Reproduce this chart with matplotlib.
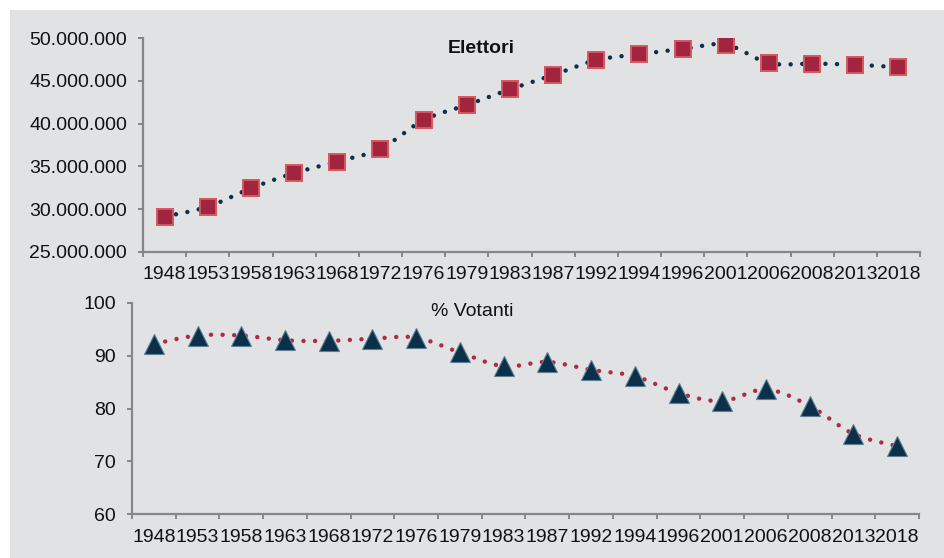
import numpy as np
import matplotlib.pyplot as plt
from matplotlib.ticker import FuncFormatter, MultipleLocator, FixedLocator

plt.rcParams['font.family'] = ['Liberation Sans', 'DejaVu Sans']

# dati
anni = ['1948', '1953', '1958', '1963', '1968', '1972', '1976', '1979', '1983',
        '1987', '1992', '1994', '1996', '2001', '2006', '2008', '2013', '2018']
elettori = [29117554, 30267080, 32436022, 34201660, 35566681, 37049654,
            40423131, 42181664, 44019393, 45689829, 47435964, 48135041,
            48744846, 49256295, 47098181, 47041814, 46905154, 46604925]
votanti = [92.2, 93.8, 93.8, 92.9, 92.8, 93.2, 93.4, 90.6, 88.0,
           88.8, 87.3, 86.1, 82.9, 81.4, 83.6, 80.5, 75.2, 72.9]

NAVY = '#0b3049'
RED = '#a3243f'
RED_EDGE = '#d4585e'
LINE_RED = '#b02945'
AXIS = '#868686'
BG = '#e1e2e4'
FS = 14


def curva_smussata(x, y, n=30):
    # linea "smussata" tipo Excel (Catmull-Rom) tra i punti
    x = np.asarray(x, float)
    y = np.asarray(y, float)
    px = np.concatenate([[x[0]], x, [x[-1]]])
    py = np.concatenate([[y[0]], y, [y[-1]]])
    xs, ys = [], []
    t = np.linspace(0, 1, n, endpoint=False)
    for i in range(1, len(px) - 2):
        for p, out in ((px, xs), (py, ys)):
            p0, p1, p2, p3 = p[i - 1], p[i], p[i + 1], p[i + 2]
            out.extend(0.5 * ((2 * p1) + (-p0 + p2) * t
                              + (2 * p0 - 5 * p1 + 4 * p2 - p3) * t ** 2
                              + (-p0 + 3 * p1 - 3 * p2 + p3) * t ** 3))
    xs.append(x[-1])
    ys.append(y[-1])
    return np.array(xs), np.array(ys)


def stile_asse(ax):
    ax.set_facecolor(BG)
    for s in ('top', 'right'):
        ax.spines[s].set_visible(False)
    for s in ('left', 'bottom'):
        ax.spines[s].set_color(AXIS)
        ax.spines[s].set_linewidth(1.6)
    ax.set_xlim(-0.5, len(anni) - 0.5)
    ax.set_xticks(range(len(anni)))
    ax.set_xticklabels(anni)
    ax.xaxis.set_minor_locator(FixedLocator(np.arange(-0.5, len(anni), 1)))
    ax.tick_params(axis='x', which='major', length=0, pad=10.5, labelsize=FS, labelcolor='#111111')
    ax.tick_params(axis='x', which='minor', length=3.6, width=1.4, color=AXIS, direction='out')
    ax.tick_params(axis='y', length=3.6, width=1.4, color=AXIS, pad=8, labelsize=FS, labelcolor='#111111')


fig = plt.figure(figsize=(9.44, 5.58), dpi=100)
fig.patch.set_facecolor('white')
fig.patches.append(plt.Rectangle((10 / 944, 0), 1, 1 - 10 / 558, transform=fig.transFigure,
                                 facecolor=BG, edgecolor='none', zorder=-10))

x = np.arange(len(anni))

# Elettori
ax1 = fig.add_axes([0.1515, 0.5489, 0.8231, 0.3825])
stile_asse(ax1)
ax1.set_ylim(25000000, 50000000)
ax1.yaxis.set_major_locator(MultipleLocator(5000000))
ax1.yaxis.set_major_formatter(FuncFormatter(lambda v, _: f'{int(v):,}'.replace(',', '.')))
sx, sy = curva_smussata(x, elettori)
ax1.plot(sx, sy, color=NAVY, lw=3.2, linestyle=(0, (0.01, 2.6)), dash_capstyle='round', zorder=2)
ax1.plot(x, elettori, linestyle='none', marker='s', markersize=11,
         markerfacecolor=RED, markeredgecolor=RED_EDGE, markeredgewidth=1.4, zorder=3)
ax1.text(0.435, 0.95, 'Elettori', transform=ax1.transAxes, ha='center', va='center',
         fontsize=FS, fontweight='bold', color='#111111')

# % Votanti
ax2 = fig.add_axes([0.1398, 0.0783, 0.8337, 0.3792])
stile_asse(ax2)
ax2.set_ylim(60, 100)
ax2.yaxis.set_major_locator(MultipleLocator(10))
sx, sy = curva_smussata(x, votanti)
ax2.plot(sx, sy, color=LINE_RED, lw=3.2, linestyle=(0, (0.01, 2.6)), dash_capstyle='round', zorder=2)
ax2.plot(x, votanti, linestyle='none', marker='^', markersize=14,
         markerfacecolor=NAVY, markeredgecolor='#5d7f95', markeredgewidth=0.8, zorder=3)
ax2.text(0.433, 0.96, '% Votanti', transform=ax2.transAxes, ha='center', va='center',
         fontsize=FS, color='#111111')

fig.savefig('out.png', dpi=100, facecolor=fig.get_facecolor())
